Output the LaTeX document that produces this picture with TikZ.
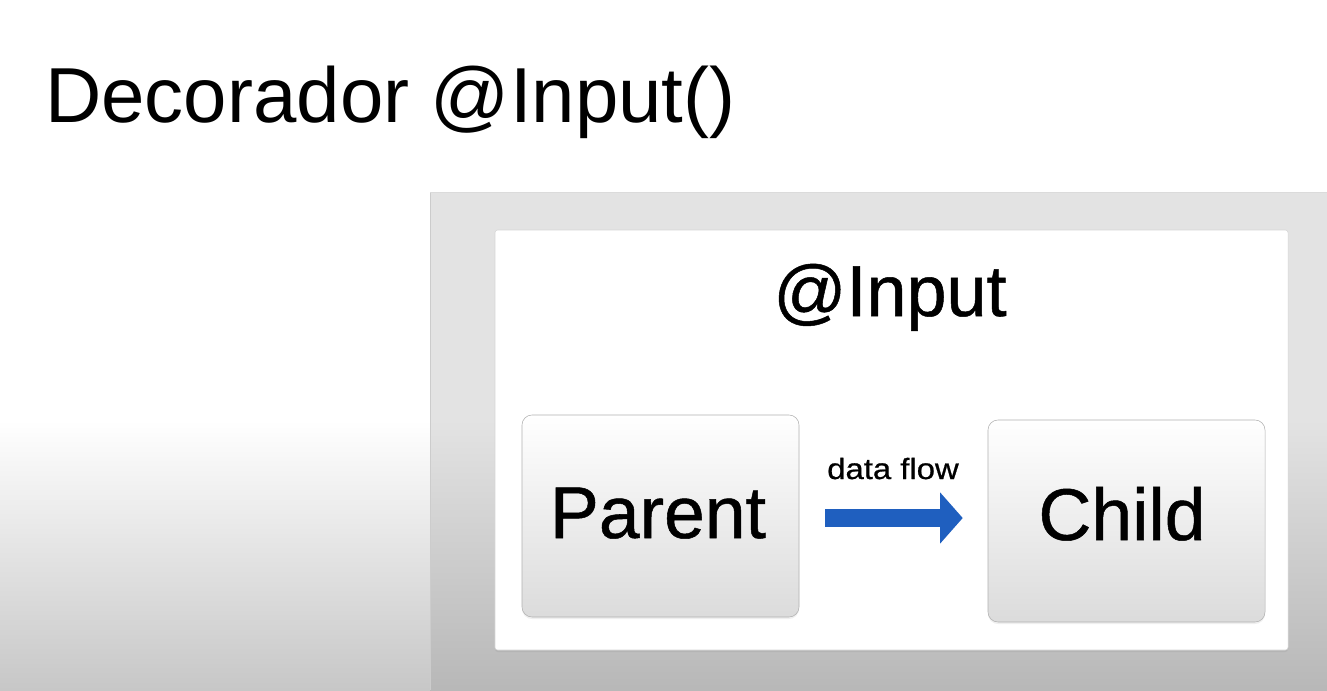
\documentclass[tikz,border=0pt]{standalone}
\usepackage{fontspec}
\setmainfont{Liberation Sans}
\newfontfamily\heavyfont[FakeBold=0.7]{Liberation Sans}
\usetikzlibrary{arrows.meta,shadows}
\definecolor{flowblue}{HTML}{1F5FBF}

\begin{document}
\begin{tikzpicture}[x=0.75pt,y=-0.75pt,
	panel/.style={draw=black!30, rounded corners=7.5pt, top color=white, bottom color=black!14,
		minimum width=207.75pt, minimum height=151.5pt, inner sep=0pt,
		drop shadow={opacity=0.12, shadow xshift=0pt, shadow yshift=-1.5pt}},
	panellabel/.style={anchor=base, inner sep=0pt, font=\heavyfont\fontsize{55}{60}\selectfont},
	flowarrow/.style={draw=flowblue, line width=13.5pt, -{Triangle[length=17pt,width=37.5pt]}}]
	\useasboundingbox (0,0) rectangle (1327,690);
	% background
	\fill [white] (0,0) rectangle (1327,690);
	\shade [top color=white, bottom color=black!22] (0,420) rectangle (1327,690);
	% grey slide area
	\fill [black!11] (430,192) rectangle (1327,420);
	\shade [top color=black!11, bottom color=black!28] (430,420) rectangle (1327,690);
	\draw [black!20] (430,192) -- (430,690);
	\draw [black!14] (430,192) -- (1327,192);
	\node [draw=black!16, fill=white, rounded corners=2pt, inner sep=0pt,
		minimum width=594.75pt, minimum height=315pt,
		drop shadow={opacity=0.15, shadow xshift=0pt, shadow yshift=-1.5pt}] (frame) at (891.5,440) {};
	% texts
	\node [anchor=base west, inner sep=0pt, font=\fontsize{58.5}{70}\selectfont] (title) at (45,122) {Decorador @Input()};
	\node [anchor=base, inner sep=0pt, font=\heavyfont\fontsize{54}{60}\selectfont] (inputlabel) at (890,316) {@Input};
	% components
	\node [panel] (parent) at (660.5,516) {};
	\node [panel] (child) at (1126.5,521) {};
	\node [panellabel] (parentlabel) at (658,538) {Parent};
	\node [panellabel] (childlabel) at (1122,540) {Child};
	\node [anchor=base, inner sep=0pt, font=\heavyfont\fontsize{22}{26}\selectfont] (flowlabel) at (893,479) {\scalebox{1.12}[1]{data flow}};
	\draw [flowarrow, shorten <=19.5pt, shorten >=18.75pt] ([yshift=-1.5pt]parent.east) -- ([yshift=-1.5pt]parent.east -| child.west);
\end{tikzpicture}
\end{document}
